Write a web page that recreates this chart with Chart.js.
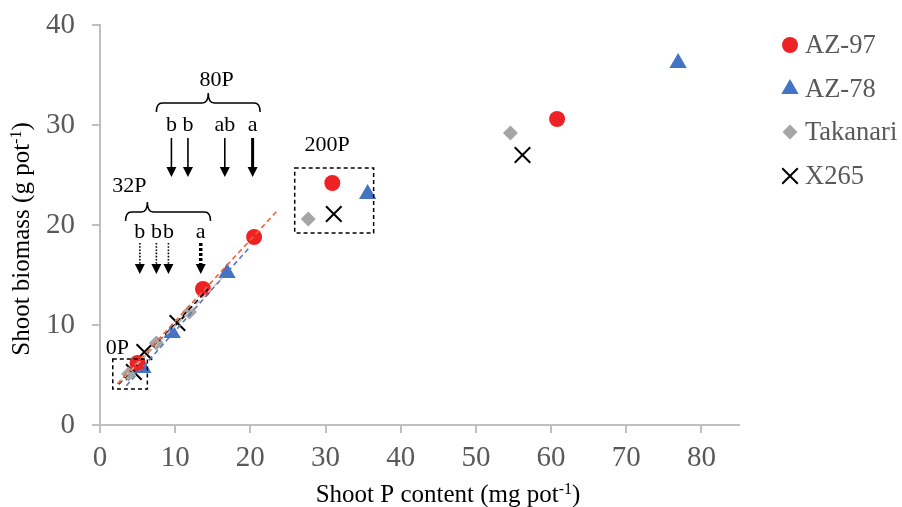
<!DOCTYPE html>
<html>
<head>
<meta charset="utf-8">
<script src="https://cdn.jsdelivr.net/npm/chart.js@4.4.1/dist/chart.umd.min.js"></script>
<style>
  html, body { margin: 0; padding: 0; background: #fff; }
  #wrap { width: 902px; height: 507px; }
</style>
</head>
<body>
<div id="wrap"><canvas id="chart" width="902" height="507"></canvas></div>
<script>
// Shoot P content vs shoot biomass; points per line: 0P, 32P, 80P, 200P, top dose
const seriesNames = ['AZ-97', 'AZ-78', 'Takanari', 'X265'];
const az97X = [5.0, 13.7, 20.5, 30.9, 60.8];
const az97Y = [6.2, 13.6, 18.8, 24.2, 30.6];
const az78X = [5.7, 9.6, 16.9, 35.6, 76.9];
const az78Y = [5.7, 9.2, 15.2, 23.1, 36.2];
const takanariX = [3.8, 7.5, 11.9, 27.7, 54.6];
const takanariY = [5.1, 8.2, 11.3, 20.6, 29.2];
const x265X = [4.5, 5.9, 10.3, 31.1, 56.2];
const x265Y = [5.3, 7.3, 10.2, 21.1, 27.0];

// linear trend over the 0P/32P/80P points, drawn between these x limits
const trendFrom = [2.3, 3.5, 2.5, 2.5];
const trendTo = [23.7, 20.0, 16.3, 14.4];

const xTicks = [0, 10, 20, 30, 40, 50, 60, 70, 80];
const yTicks = [0, 10, 20, 30, 40];

// significance letters and their arrows
const arrows32X = [5.3, 7.5, 9.1, 13.4];
const letters32 = ['b', 'b', 'b', 'a'];
const arrows80X = [9.5, 11.7, 16.6, 20.3];
const letters80 = ['b', 'b', 'ab', 'a'];

const allX = [az97X, az78X, takanariX, x265X];
const allY = [az97Y, az78Y, takanariY, x265Y];
const colors = ['#ee2224', '#4472c4', '#a5a5a5', '#000000'];
const trendColors = ['#f0643c', '#5a74b6', '#c8c8c8', '#000000'];
const styles = ['circle', 'triangle', 'rectRot', 'crossRot'];
const radii = [8, 10, 7.5, 11];

const SERIF = '"Liberation Serif", "Times New Roman", serif';
const NOTE_FONT = '22px ' + SERIF;

function linFit(xs, ys) {
    const n = xs.length;
    const mx = xs.reduce((a, b) => a + b, 0) / n;
    const my = ys.reduce((a, b) => a + b, 0) / n;
    let sxy = 0, sxx = 0;
    for (let i = 0; i < n; i++) {
        sxy += (xs[i] - mx) * (ys[i] - my);
        sxx += (xs[i] - mx) * (xs[i] - mx);
    }
    const slope = sxy / sxx;
    return { slope, icpt: my - slope * mx };
}

const datasets = [];
seriesNames.forEach((name, s) => {
    datasets.push({
        label: name,
        data: allX[s].map((x, i) => ({ x, y: allY[s][i] })),
        pointStyle: styles[s],
        pointRadius: radii[s],
        pointBackgroundColor: colors[s],
        pointBorderColor: colors[s],
        pointBorderWidth: styles[s] === 'crossRot' ? 2 : 0,
        showLine: false,
        order: 1,
    });
});
seriesNames.forEach((name, s) => {
    const f = linFit(allX[s].slice(0, 3), allY[s].slice(0, 3));
    datasets.push({
        label: name + ' trend',
        data: [trendFrom[s], trendTo[s]].map(x => ({ x, y: f.icpt + f.slope * x })),
        showLine: true,
        borderColor: trendColors[s],
        borderWidth: 1.6,
        borderDash: [5, 3.5],
        pointRadius: 0,
        order: 0,
    });
});

function drawSup(ctx, parts, size) {
    // parts: [text, superscript?], centred on the current origin
    const supSize = Math.round(size * 0.62);
    ctx.textAlign = 'left';
    let w = 0;
    parts.forEach(([t, sup]) => {
        ctx.font = (sup ? supSize : size) + 'px ' + SERIF;
        w += ctx.measureText(t).width;
    });
    let x = -w / 2;
    parts.forEach(([t, sup]) => {
        ctx.font = (sup ? supSize : size) + 'px ' + SERIF;
        ctx.fillText(t, x, sup ? -size * 0.33 : 0);
        x += ctx.measureText(t).width;
    });
}

function drawArrow(ctx, x, yTop, yTip, width, dash) {
    const headH = 10, headW = 5;
    ctx.save();
    ctx.lineWidth = width;
    ctx.setLineDash(dash);
    ctx.beginPath();
    ctx.moveTo(x, yTop);
    ctx.lineTo(x, yTip - headH);
    ctx.stroke();
    ctx.setLineDash([]);
    ctx.beginPath();
    ctx.moveTo(x - headW, yTip - headH);
    ctx.lineTo(x + headW, yTip - headH);
    ctx.lineTo(x, yTip);
    ctx.closePath();
    ctx.fill();
    ctx.restore();
}

function drawBrace(ctx, xl, xr, xm, y) {
    const d = 9, peak = 10;
    ctx.beginPath();
    ctx.moveTo(xl, y + d);
    ctx.quadraticCurveTo(xl, y, xl + 6, y);
    ctx.lineTo(xm - 6, y);
    ctx.quadraticCurveTo(xm, y, xm, y - peak);
    ctx.quadraticCurveTo(xm, y, xm + 6, y);
    ctx.lineTo(xr - 6, y);
    ctx.quadraticCurveTo(xr, y, xr, y + d);
    ctx.stroke();
}

const extras = {
    id: 'extras',
    afterDraw(chart) {
        const ctx = chart.ctx;
        const xs = chart.scales.x, ys = chart.scales.y;
        const px = v => xs.getPixelForValue(v);
        const py = v => ys.getPixelForValue(v);

        ctx.save();
        ctx.fillStyle = '#000';
        ctx.strokeStyle = '#000';
        ctx.textAlign = 'center';
        ctx.textBaseline = 'middle';
        ctx.font = NOTE_FONT;

        // 32P group
        ctx.lineWidth = 1.5;
        drawBrace(ctx, px(3.4), px(14.7), px(6.3), py(21.3));
        ctx.fillText('32P', px(3.9), py(23.9));
        arrows32X.forEach((x, i) => {
            ctx.fillText(letters32[i], px(x), py(19.3));
            const strong = letters32[i] === 'a';
            drawArrow(ctx, px(x), py(18.2), py(15.1), strong ? 3.5 : 1.6, strong ? [3, 2] : [1.6, 1.6]);
        });

        // 80P group
        drawBrace(ctx, px(7.5), px(21.3), px(14.4), py(32.2));
        ctx.fillText('80P', px(15.5), py(34.5));
        arrows80X.forEach((x, i) => {
            ctx.fillText(letters80[i], px(x), py(30.0));
            const strong = letters80[i] === 'a';
            drawArrow(ctx, px(x), py(28.7), py(24.8), strong ? 3 : 1.6, []);
        });

        // 200P and 0P boxes
        ctx.lineWidth = 1.5;
        ctx.setLineDash([4, 3]);
        ctx.strokeRect(px(25.9), py(25.7), px(36.4) - px(25.9), py(19.2) - py(25.7));
        ctx.strokeRect(px(1.7), py(6.6), px(6.3) - px(1.7), py(3.6) - py(6.6));
        ctx.setLineDash([]);
        ctx.fillText('200P', px(30.2), py(28.0));
        ctx.fillText('0P', px(2.3), py(7.7));

        // axis titles
        ctx.textBaseline = 'alphabetic';
        ctx.save();
        ctx.translate(448, 502);
        drawSup(ctx, [['Shoot P content (mg pot', false], ['-1', true], [')', false]], 25);
        ctx.restore();
        ctx.save();
        ctx.translate(29, 239);
        ctx.rotate(-Math.PI / 2);
        drawSup(ctx, [['Shoot biomass (g pot', false], ['-1', true], [')', false]], 25);
        ctx.restore();

        // legend
        ctx.textAlign = 'left';
        ctx.textBaseline = 'middle';
        ctx.font = '26.5px ' + SERIF;
        const rowY = [45, 89, 132, 176];
        seriesNames.forEach((name, s) => {
            ctx.fillStyle = colors[s];
            ctx.strokeStyle = colors[s];
            ctx.lineWidth = 2;
            Chart.helpers.drawPoint(ctx, {
                pointStyle: styles[s], radius: radii[s], rotation: 0,
                borderWidth: styles[s] === 'crossRot' ? 2 : 0,
            }, 790, rowY[s]);
            ctx.fillStyle = '#595959';
            ctx.fillText(name, 805, rowY[s] + 1);
        });
        ctx.restore();
    },
};

const axisGrid = {
    display: true,
    drawOnChartArea: false,
    drawTicks: true,
    tickLength: 8,
    color: '#bfbfbf',
    lineWidth: 2,
};

new Chart(document.getElementById('chart'), {
    type: 'scatter',
    data: { datasets },
    options: {
        responsive: false,
        animation: false,
        events: [],
        layout: { padding: { top: 25, right: 163, bottom: 0, left: 0 } },
        scales: {
            x: {
                type: 'linear',
                min: 0,
                max: 85,
                afterBuildTicks: axis => { axis.ticks = xTicks.map(v => ({ value: v })); },
                afterFit: axis => { axis.height = 82; axis.paddingLeft = 0; axis.paddingRight = 0; },
                grid: axisGrid,
                border: { display: true, color: '#bfbfbf', width: 2 },
                ticks: {
                    color: '#595959',
                    padding: 8,
                    font: { family: SERIF, size: 29 },
                },
            },
            y: {
                type: 'linear',
                min: 0,
                max: 40,
                afterBuildTicks: axis => { axis.ticks = yTicks.map(v => ({ value: v })); },
                afterFit: axis => { axis.width = 100; axis.paddingTop = 0; axis.paddingBottom = 0; },
                grid: axisGrid,
                border: { display: true, color: '#bfbfbf', width: 2 },
                ticks: {
                    color: '#595959',
                    padding: 17,
                    font: { family: SERIF, size: 29 },
                },
            },
        },
        plugins: {
            legend: { display: false },
            tooltip: { enabled: false },
        },
    },
    plugins: [extras],
});
</script>
</body>
</html>
